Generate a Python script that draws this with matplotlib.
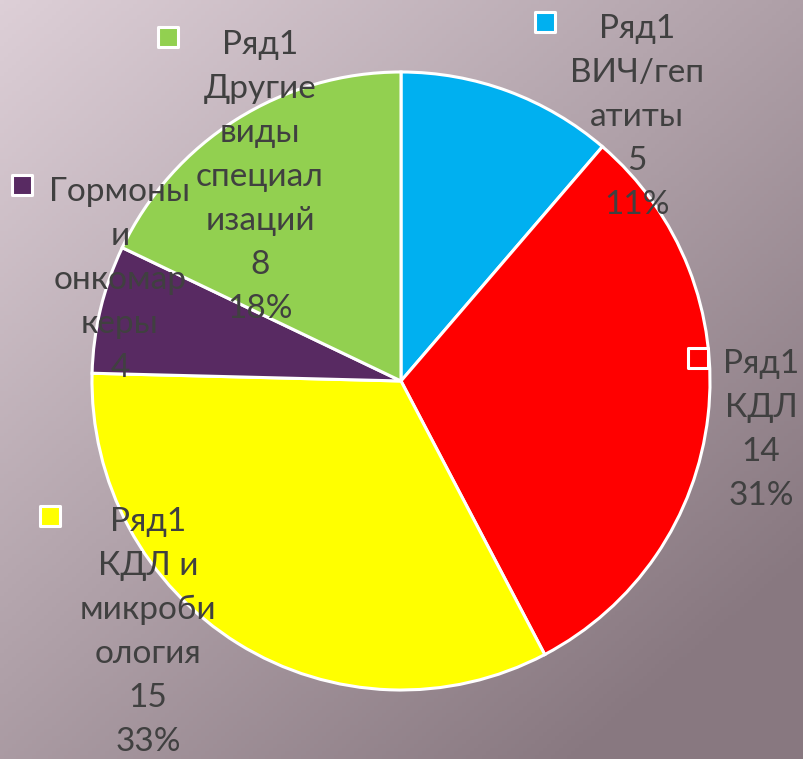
import numpy as np
import matplotlib
matplotlib.use("Agg")
import matplotlib.pyplot as plt

plt.rcParams['font.family'] = ['Lato', 'Open Sans', 'DejaVu Sans']

# данные диаграммы
categories = ["ВИЧ/геп\nатиты", "КДЛ", "КДЛ и\nмикроби\nология", "Гормоны\nи\nонкомар\nкеры", "Другие\nвиды\nспециал\nизаций"]
counts = [5, 14, 15, 4, 8]
pct_labels = ["11%", "31%", "33%", "", "18%"]
shares = [11.3, 31.0, 33.1, 6.7, 17.9]  # доли секторов
series_name = "Ряд1"
colors = ["#00B0F0", "#FF0000", "#FFFF00", "#582A62", "#92D050"]

# раскладка (пиксели, ось y вверх)
W, H = 804, 759
pie_center = (401, 759 - 381)
pie_radius = 309
label_pos = [(637, 642), (761, 329), (148, 127), (120, 479), (260, 582)]
key_pos = [(545, 737), (698, 401), (50, 243), (22, 574), (168, 722)]
show_series = [True, True, True, False, True]

fig = plt.figure(figsize=(W / 100, H / 100), dpi=100)

# фон-градиент
bg = fig.add_axes([0, 0, 1, 1], zorder=0)
yy, xx = np.mgrid[0:1:200j, 0:1:200j]
t = np.clip(0.55 * xx + 0.6 * yy, 0, 1)
c0 = np.array([221, 207, 215]) / 255
c1 = np.array([136, 120, 128]) / 255
img = c0[None, None, :] * (1 - t[..., None]) + c1[None, None, :] * t[..., None]
bg.imshow(img, extent=[0, 1, 0, 1], aspect='auto', origin='upper')
bg.axis('off')

ax = fig.add_axes([0, 0, 1, 1], zorder=1)
ax.patch.set_alpha(0)

ax.pie(shares, colors=colors, startangle=90, counterclock=False,
       center=pie_center, radius=pie_radius, frame=True,
       wedgeprops=dict(edgecolor='white', linewidth=2.2))
ax.set_xlim(0, W)
ax.set_ylim(0, H)
ax.set_aspect('equal')
ax.axis('off')

for i, cat in enumerate(categories):
    lines = []
    if show_series[i]:
        lines.append(series_name)
    lines.append(cat)
    lines.append(str(counts[i]))
    if pct_labels[i]:
        lines.append(pct_labels[i])
    ax.text(label_pos[i][0], label_pos[i][1], "\n".join(lines), ha='center', va='center',
            fontsize=24, color='#404040', linespacing=1.58, zorder=5)
    ax.scatter([key_pos[i][0]], [key_pos[i][1]], marker='s', s=190, color=colors[i],
               edgecolors='white', linewidths=2.2, zorder=5)

fig.savefig("out.png", dpi=100)
